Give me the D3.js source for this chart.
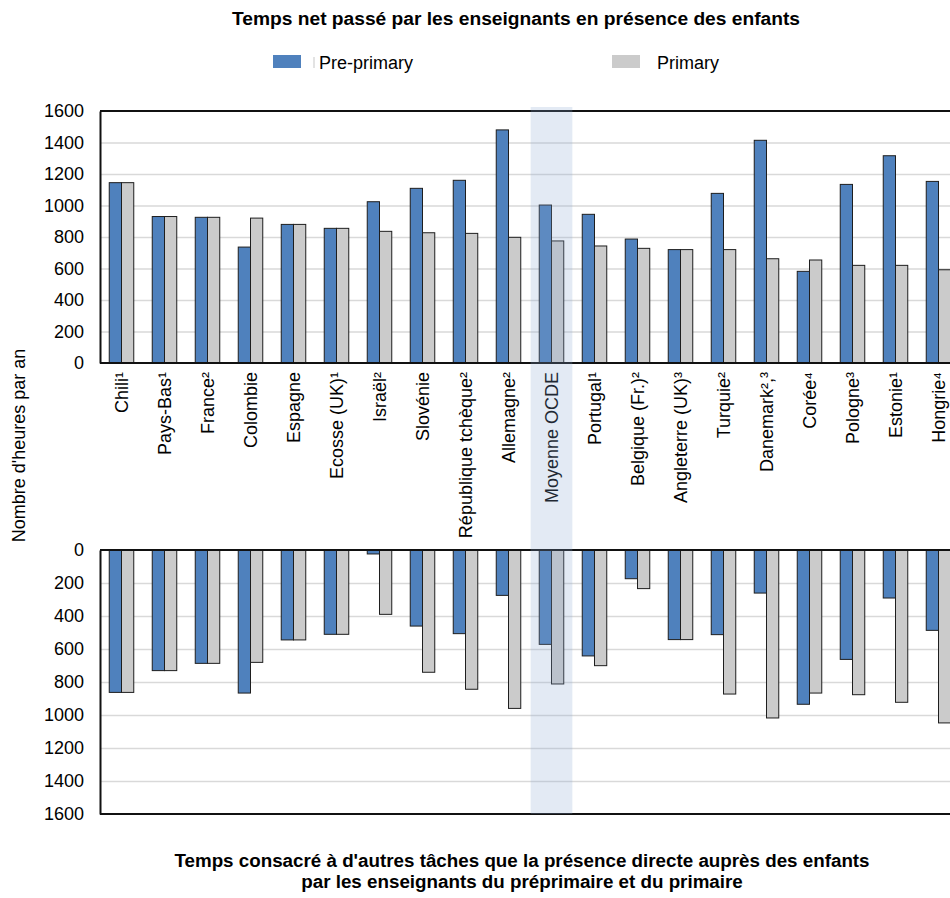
<!DOCTYPE html>
<html>
<head>
<meta charset="utf-8">
<script src="https://cdn.jsdelivr.net/npm/d3@7"></script>
<style>
  html, body { margin: 0; padding: 0; background: #fff; }
  svg { display: block; font-family: "Liberation Sans", Arial, sans-serif; }
</style>
</head>
<body>
<svg id="chart" width="950" height="898"></svg>
<script>
// Countries, in the order drawn along the x axis
const categories = [
  "Chili¹", "Pays-Bas¹", "France²", "Colombie", "Espagne", "Ecosse (UK)¹",
  "Israël²", "Slovénie", "République tchèque²", "Allemagne²", "Moyenne OCDE",
  "Portugal¹", "Belgique (Fr.)²", "Angleterre (UK)³", "Turquie²", "Danemark²,³",
  "Corée⁴", "Pologne³", "Estonie¹", "Hongrie⁴"
];
const seriesNames = ["Pre-primary", "Primary"];

// Net teaching time (hours per year)
const teachingPre = [1145, 930, 925, 736, 880, 855, 1024, 1109, 1160, 1480, 1003, 944, 787, 720, 1077, 1414, 582, 1134, 1316, 1153];
const teachingPri = [1145, 930, 925, 920, 880, 855, 836, 827, 823, 798, 775, 743, 728, 720, 720, 662, 654, 620, 620, 592];

// Time spent on other tasks (hours per year)
const otherPre = [863, 731, 687, 867, 545, 511, 24, 461, 507, 275, 572, 642, 174, 543, 513, 261, 935, 663, 291, 487];
const otherPri = [863, 731, 687, 681, 545, 511, 390, 741, 844, 960, 812, 701, 234, 543, 873, 1018, 867, 877, 923, 1048];

const yTicks = [0, 200, 400, 600, 800, 1000, 1200, 1400, 1600];
const highlight = "Moyenne OCDE";

const topTitle = "Temps net passé par les enseignants en présence des enfants";
const bottomTitle = [
  "Temps consacré à d'autres tâches que la présence directe auprès des enfants",
  "par les enseignants du préprimaire et du primaire"
];
const yTitle = "Nombre d'heures par an";

const colors = { "Pre-primary": "#4f81bd", "Primary": "#cbcbcb" };

const svg = d3.select("#chart");

// Shared horizontal layout
const left = 100, right = 960;
const x = d3.scaleBand().domain(categories).range([left, right])
  .paddingInner(0.43).paddingOuter(0.215);
const xs = d3.scaleBand().domain(seriesNames).range([0, x.bandwidth()]);

// Upper panel: bars grow upwards; lower panel: bars hang downwards
const yTop = d3.scaleLinear().domain([0, 1600]).range([363, 111]);
const yBot = d3.scaleLinear().domain([0, 1600]).range([550, 814]);

function rows(pre, pri) {
  return categories.map((c, i) => ({
    cat: c,
    vals: [{ s: "Pre-primary", v: pre[i] }, { s: "Primary", v: pri[i] }]
  }));
}

function panel(y, data, downward) {
  const g = svg.append("g");
  // gridlines
  g.append("g")
    .call(d3.axisLeft(y).tickValues(yTicks.slice(1, -1)).tickSize(-(right - left)).tickFormat(""))
    .attr("transform", `translate(${left},0)`)
    .call(a => a.select(".domain").remove())
    .call(a => a.selectAll("line").attr("stroke", "#d9d9d9").attr("stroke-width", 1.5));

  // bars
  const groups = g.append("g").selectAll("g").data(data).join("g")
    .attr("transform", d => `translate(${x(d.cat)},0)`);
  groups.selectAll("rect").data(d => d.vals).join("rect")
    .attr("x", d => xs(d.s))
    .attr("width", xs.bandwidth())
    .attr("y", d => downward ? y(0) : y(d.v))
    .attr("height", d => Math.abs(y(d.v) - y(0)))
    .attr("fill", d => colors[d.s])
    .attr("stroke", "#1e1e1e")
    .attr("stroke-width", 1);

  // frame lines (top and bottom of the panel)
  g.append("g").selectAll("line").data([0, 1600]).join("line")
    .attr("x1", left).attr("x2", right)
    .attr("y1", d => y(d)).attr("y2", d => y(d))
    .attr("stroke", "#111").attr("stroke-width", 2);

  // value axis
  const ax = g.append("g").attr("transform", `translate(${left},0)`)
    .call(d3.axisLeft(y).tickValues(yTicks).tickFormat(d3.format("d")).tickSize(0).tickPadding(16));
  ax.select(".domain").attr("stroke", "#111").attr("stroke-width", 2);
  ax.selectAll("text").attr("font-size", 18).attr("fill", "#000")
    .attr("font-family", "'Liberation Sans', Arial, sans-serif");
  return g;
}

panel(yTop, rows(teachingPre, teachingPri), false);
panel(yBot, rows(otherPre, otherPri), true);

// Category labels, rotated, hanging below the upper panel
svg.append("g").selectAll("text").data(categories).join("text")
  .attr("transform", "rotate(-90)")
  .attr("x", -372)
  .attr("y", d => x(d) + x.bandwidth() / 2)
  .attr("dy", "0.35em")
  .attr("text-anchor", "end")
  .attr("font-size", 18)
  .attr("fill", "#000")
  .text(d => d);

// Highlight band for the OECD average, laid over both panels
const hc = x(highlight) + x.bandwidth() / 2;
const hw = x.step() * 0.97;
svg.append("rect")
  .attr("x", hc - hw / 2).attr("width", hw)
  .attr("y", 107).attr("height", yBot(1600) - 107)
  .attr("fill", "rgb(138,168,209)").attr("fill-opacity", 0.24);

// Axis title
svg.append("text")
  .attr("transform", `translate(25,${(yTop(1600) + yBot(1600)) / 2 - 17}) rotate(-90)`)
  .attr("text-anchor", "middle")
  .attr("font-size", 18)
  .text(yTitle);

// Titles
svg.append("text")
  .attr("x", 516).attr("y", 25)
  .attr("text-anchor", "middle")
  .attr("font-size", 19.2).attr("font-weight", "bold")
  .text(topTitle);

svg.append("g").selectAll("text").data(bottomTitle).join("text")
  .attr("x", 522).attr("y", (d, i) => 867 + i * 21)
  .attr("text-anchor", "middle")
  .attr("font-size", 18.8).attr("font-weight", "bold")
  .text(d => d);

// Legend
const legendItems = [
  { s: "Pre-primary", rx: 273, tx: 319 },
  { s: "Primary", rx: 612, tx: 657 }
];
const lg = svg.append("g");
lg.selectAll("rect").data(legendItems).join("rect")
  .attr("x", d => d.rx).attr("y", 55).attr("width", 28).attr("height", 13)
  .attr("fill", d => colors[d.s]);
lg.append("rect").attr("x", 313.5).attr("y", 57).attr("width", 1).attr("height", 11).attr("fill", "#c8c8c8");
lg.selectAll("text").data(legendItems).join("text")
  .attr("x", d => d.tx).attr("y", 69)
  .attr("font-size", 18)
  .text(d => d.s);
</script>
</body>
</html>
